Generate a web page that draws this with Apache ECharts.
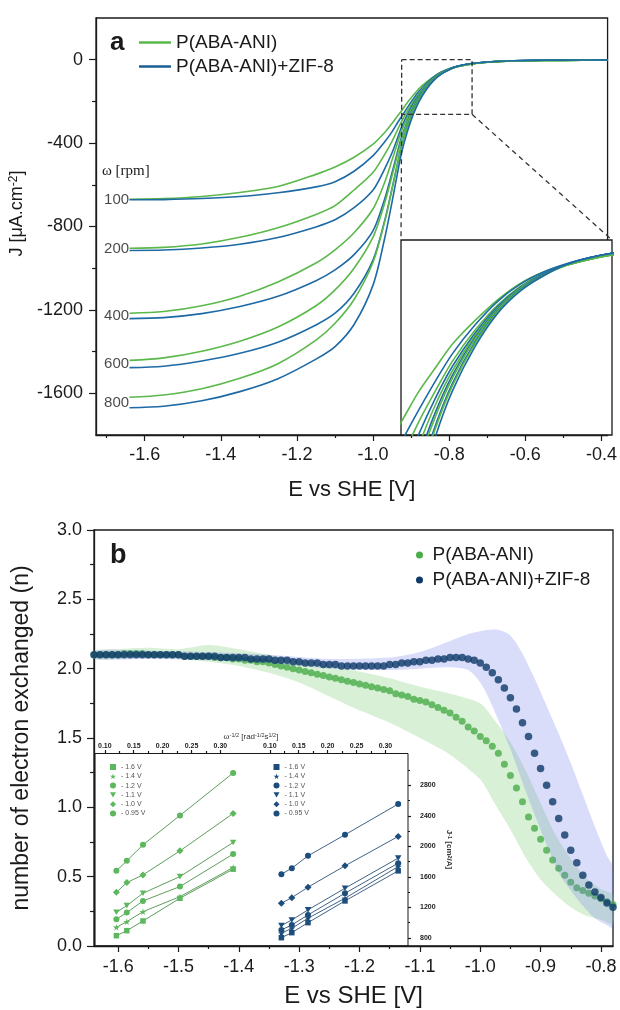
<!DOCTYPE html>
<html>
<head>
<meta charset="utf-8">
<title>P(ABA-ANI) vs P(ABA-ANI)+ZIF-8</title>
<script src="https://cdn.jsdelivr.net/npm/echarts@6.0.0/dist/echarts.min.js"></script>
<style>
html,body{margin:0;padding:0;background:#ffffff;}
#chart{width:620px;height:1010px;}
</style>
</head>
<body>
<div id="chart"></div>
<script>
// ================= DATA =================
// ---- Panel a : current density J (µA/cm²) vs E (V vs SHE) ----
const potentialA = [-1.64, -1.55, -1.45, -1.35, -1.25, -1.15, -1.10, -1.05, -1.00, -0.97, -0.95, -0.935, -0.925, -0.91, -0.895, -0.88, -0.86, -0.84, -0.82, -0.80, -0.78, -0.76, -0.74, -0.70, -0.65, -0.60, -0.50, -0.385];
const rotationRates = ['100', '200', '400', '600', '800'];
const jPani100 = [-669, -666, -656, -637, -608, -550, -515, -468, -405, -350, -305, -268, -245, -205, -172, -140, -108, -80, -58, -43, -33, -26, -20, -12, -7, -5, -3, -1];
const jZif100  = [-672, -671, -666, -656, -638, -610, -585, -535, -460, -395, -345, -300, -272, -230, -190, -153, -114, -82, -59, -43, -32, -24, -18, -11, -6, -4, -2, -1];
const jPani200 = [-904, -900, -884, -852, -806, -742, -700, -625, -540, -455, -390, -333, -296, -246, -203, -163, -121, -87, -62, -45, -34, -26, -20, -12, -7, -5, -3, -1];
const jZif200  = [-915, -913, -903, -885, -853, -802, -768, -710, -625, -525, -445, -372, -322, -263, -213, -170, -125, -89, -63, -45, -33, -24, -18, -11, -6, -4, -2, -1];
const jPani400 = [-1216, -1208, -1180, -1134, -1066, -975, -912, -830, -715, -590, -480, -395, -340, -278, -222, -176, -128, -91, -64, -46, -34, -26, -20, -12, -7, -5, -3, -1];
const jZif400  = [-1242, -1237, -1218, -1184, -1135, -1060, -1008, -935, -820, -670, -540, -435, -370, -295, -232, -182, -131, -92, -65, -46, -33, -24, -18, -11, -6, -4, -2, -1];
const jPani600 = [-1442, -1430, -1398, -1350, -1282, -1180, -1104, -1000, -850, -690, -555, -450, -380, -302, -238, -186, -133, -93, -65, -47, -34, -26, -20, -12, -7, -5, -3, -1];
const jZif600  = [-1477, -1470, -1445, -1408, -1355, -1272, -1216, -1120, -960, -775, -615, -490, -410, -322, -250, -193, -137, -95, -66, -47, -33, -24, -18, -11, -6, -4, -2, -1];
const jPani800 = [-1619, -1608, -1578, -1528, -1458, -1345, -1264, -1150, -970, -780, -620, -495, -415, -327, -254, -196, -139, -96, -67, -48, -34, -26, -20, -12, -7, -5, -3, -1];
const jZif800  = [-1669, -1662, -1636, -1592, -1530, -1436, -1376, -1270, -1080, -860, -680, -535, -445, -345, -265, -203, -143, -98, -68, -48, -33, -24, -18, -11, -6, -4, -2, -1];
const zoomBoxE = [-0.925, -0.74];
const zoomBoxJ = [-262, 0];
const ticksA_E = [-1.6, -1.4, -1.2, -1.0, -0.8, -0.6, -0.4];
const minorA_E = [-1.7, -1.5, -1.3, -1.1, -0.9, -0.7, -0.5];
const ticksA_J = [-1600, -1200, -800, -400, 0];
const minorA_J = [-1400, -1000, -600, -200];

// ---- Panel b : number of electrons exchanged n vs E ----
const potentialB = [
  -1.64,-1.63,-1.62,-1.61,-1.60,-1.59,-1.58,-1.57,-1.56,-1.55,
  -1.54,-1.53,-1.52,-1.51,-1.50,-1.49,-1.48,-1.47,-1.46,-1.45,
  -1.44,-1.43,-1.42,-1.41,-1.40,-1.39,-1.38,-1.37,-1.36,-1.35,
  -1.34,-1.33,-1.32,-1.31,-1.30,-1.29,-1.28,-1.27,-1.26,-1.25,
  -1.24,-1.23,-1.22,-1.21,-1.20,-1.19,-1.18,-1.17,-1.16,-1.15,
  -1.14,-1.13,-1.12,-1.11,-1.10,-1.09,-1.08,-1.07,-1.06,-1.05,
  -1.04,-1.03,-1.02,-1.01,-1.00,-0.99,-0.98,-0.97,-0.96,-0.95,
  -0.94,-0.93,-0.92,-0.91,-0.90,-0.89,-0.88,-0.87,-0.86,-0.85,
  -0.84,-0.83,-0.82,-0.81,-0.80,-0.79,-0.78];
const nPani = [
  2.10,2.10,2.10,2.10,2.10,2.11,2.11,2.11,2.11,2.10,
  2.10,2.10,2.10,2.10,2.10,2.09,2.09,2.09,2.09,2.09,
  2.08,2.08,2.08,2.07,2.07,2.06,2.06,2.05,2.05,2.04,
  2.03,2.02,2.01,2.00,1.99,1.98,1.97,1.96,1.95,1.94,
  1.93,1.92,1.91,1.90,1.89,1.88,1.87,1.86,1.85,1.84,
  1.82,1.81,1.80,1.78,1.77,1.76,1.74,1.72,1.70,1.68,
  1.65,1.62,1.58,1.55,1.51,1.48,1.44,1.39,1.31,1.23,
  1.14,1.04,0.93,0.85,0.77,0.69,0.62,0.56,0.51,0.46,
  0.42,0.40,0.38,0.36,0.34,0.32,0.30];
const nZif = [
  2.10,2.10,2.10,2.10,2.10,2.10,2.10,2.10,2.10,2.10,
  2.10,2.10,2.10,2.10,2.10,2.09,2.09,2.09,2.09,2.09,
  2.09,2.08,2.08,2.08,2.08,2.08,2.07,2.07,2.07,2.07,
  2.06,2.06,2.06,2.05,2.05,2.04,2.04,2.04,2.03,2.03,
  2.03,2.02,2.02,2.02,2.02,2.02,2.02,2.02,2.02,2.03,
  2.03,2.04,2.04,2.05,2.05,2.06,2.06,2.07,2.07,2.08,
  2.08,2.08,2.07,2.06,2.04,2.01,1.97,1.92,1.86,1.79,
  1.71,1.61,1.51,1.39,1.28,1.16,1.04,0.92,0.80,0.69,
  0.60,0.51,0.44,0.39,0.35,0.31,0.28];
const bandPaniE     = [-1.64, -1.60, -1.55, -1.50, -1.45, -1.40, -1.35, -1.30, -1.25, -1.20, -1.15, -1.10, -1.05, -1.00, -0.975, -0.95, -0.925, -0.90, -0.875, -0.85, -0.825, -0.80, -0.78];
const bandPaniUpper = [2.13, 2.14, 2.15, 2.14, 2.17, 2.14, 2.10, 2.06, 2.02, 1.98, 1.93, 1.87, 1.82, 1.75, 1.62, 1.47, 1.27, 1.03, 0.80, 0.63, 0.49, 0.41, 0.37];
const bandPaniLower = [2.07, 2.07, 2.08, 2.07, 2.05, 2.02, 1.97, 1.90, 1.80, 1.70, 1.61, 1.50, 1.38, 1.20, 1.02, 0.84, 0.64, 0.48, 0.37, 0.28, 0.22, 0.19, 0.16];
const bandZifE      = [-1.64, -1.55, -1.45, -1.35, -1.25, -1.15, -1.10, -1.05, -1.02, -1.00, -0.985, -0.97, -0.95, -0.93, -0.91, -0.89, -0.87, -0.85, -0.83, -0.81, -0.79, -0.78];
const bandZifUpper  = [2.13, 2.13, 2.12, 2.10, 2.07, 2.08, 2.12, 2.20, 2.25, 2.27, 2.28, 2.28, 2.24, 2.11, 1.93, 1.73, 1.53, 1.32, 1.09, 0.86, 0.65, 0.57];
const bandZifLower  = [2.07, 2.07, 2.06, 2.04, 2.00, 1.99, 2.00, 2.01, 1.99, 1.90, 1.78, 1.63, 1.42, 1.18, 0.95, 0.73, 0.53, 0.40, 0.29, 0.20, 0.15, 0.13];
const ticksB_E = [-1.6, -1.5, -1.4, -1.3, -1.2, -1.1, -1.0, -0.9, -0.8];
const minorB_E = [-1.55, -1.45, -1.35, -1.25, -1.15, -1.05, -0.95, -0.85];
const ticksB_n = [0, 0.5, 1.0, 1.5, 2.0, 2.5, 3.0];
const minorB_n = [0.25, 0.75, 1.25, 1.75, 2.25, 2.75];

// ---- Inset of panel b : Koutecky-Levich plots ----
const klOmega = [0.120, 0.138, 0.166, 0.230, 0.322];
const klPotentials = ['- 1.6 V', '- 1.4 V', '- 1.2 V', '- 1.1 V', '- 1.0 V', '- 0.95 V'];
const klInvJPani = [
  [830, 896, 1023, 1321, 1702],
  [940, 1014, 1145, 1342, 1723],
  [1046, 1133, 1286, 1474, 1900],
  [1137, 1224, 1387, 1605, 2052],
  [1400, 1526, 1627, 1942, 2432],
  [1680, 1811, 2021, 2406, 2963]];
const klInvJZif = [
  [804, 870, 1001, 1286, 1680],
  [862, 927, 1059, 1321, 1736],
  [905, 971, 1102, 1387, 1781],
  [962, 1036, 1168, 1452, 1847],
  [1256, 1329, 1466, 1746, 2131],
  [1636, 1715, 1877, 2153, 2556]];
const klOmegaTicks = [0.10, 0.15, 0.20, 0.25, 0.30];
const klOmegaMinor = [0.125, 0.175, 0.225, 0.275];
const klInvJTicks = [800, 1200, 1600, 2000, 2400, 2800];
const klInvJMinor = [1000, 1400, 1800, 2200, 2600, 3000];

// ================= STYLE / LAYOUT =================
const FONT = "'Liberation Sans', Arial, Helvetica, sans-serif";
const SERIF = "'Liberation Serif', 'Times New Roman', serif";
const INK = '#1a1a1a';
const NAME_PANI = 'P(ABA-ANI)';
const NAME_ZIF = 'P(ABA-ANI)+ZIF-8';
const GREEN_A = '#5bb84a';
const BLUE_A = '#1d6aa6';
const GREEN_B = '#4aad4a';
const BLUE_B = '#0d3a68';
const GREEN_BAND = 'rgba(125, 205, 115, 0.30)';
const BLUE_BAND = 'rgba(120, 128, 235, 0.27)';
const KL_GREEN_MARK = '#5cb85c', KL_GREEN_LINE = '#5e9e5e';
const KL_BLUE_MARK = '#1c4d7d', KL_BLUE_LINE = '#3f6385';
const STAR = 'path://M50,0 L61,35 L98,35 L68,57 L79,91 L50,70 L21,91 L32,57 L2,35 L39,35 Z';
const TRI_DOWN = 'path://M0,0 L100,0 L50,87 Z';
const KL_SYMBOLS = ['rect', STAR, 'circle', TRI_DOWN, 'diamond', 'circle'];
const KL_SIZES = [5.5, 7, 6, 6.5, 7, 6];
const RPM_LABEL_E = -1.674;

const pairs = (xs, ys) => xs.map((x, i) => [x, ys[i]]);
const axLine = { show: true, onZero: false, lineStyle: { color: INK, width: 1.3 } };
const tickStyle = { color: INK, width: 1.2 };

function majorAxis(o) {
  return Object.assign({
    type: 'value', splitLine: { show: false }, axisLine: axLine,
    axisTick: { show: true, customValues: o.ticks, length: o.tickLen || 6, inside: false, lineStyle: tickStyle },
    axisLabel: { show: true, customValues: o.ticks, formatter: o.fmt, fontSize: o.fontSize || 18,
      color: INK, fontFamily: FONT, margin: o.margin, fontWeight: o.bold ? 'bold' : 'normal' }
  }, o.extra);
}
function minorAxis(o) {
  return Object.assign({
    type: 'value', splitLine: { show: false }, axisLine: { show: false, onZero: false },
    axisTick: { show: true, customValues: o.ticks, length: o.tickLen || 3, inside: false, lineStyle: tickStyle },
    axisLabel: { show: false }
  }, o.extra);
}

const fmt1 = v => Number(v).toFixed(1);
const fmt2 = v => Number(v).toFixed(2);
const fmt0 = v => String(Math.round(v));

const grid = [
  { left: 96, top: 18, width: 516, height: 417, show: true, borderColor: INK, borderWidth: 1.3, backgroundColor: 'transparent' },
  { left: 401, top: 240, width: 211, height: 195, show: true, borderColor: INK, borderWidth: 1.3, backgroundColor: '#ffffff' },
  { left: 94, top: 530, width: 519, height: 416, show: true, borderColor: INK, borderWidth: 1.3, backgroundColor: 'transparent' },
  { left: 95, top: 753, width: 165, height: 193, show: false },
  { left: 260, top: 753, width: 148, height: 193, show: false }
];

const xAxis = [
  majorAxis({ ticks: ticksA_E, fmt: fmt1, margin: 11, extra: { gridIndex: 0, position: 'bottom', min: -1.728, max: -0.384,
    name: 'E vs SHE [V]', nameLocation: 'middle', nameGap: 44, nameTextStyle: { fontSize: 22, color: INK, fontFamily: FONT } } }),
  minorAxis({ ticks: minorA_E, extra: { gridIndex: 0, position: 'bottom', min: -1.728, max: -0.384 } }),
  { type: 'value', gridIndex: 1, min: zoomBoxE[0], max: zoomBoxE[1], show: false },
  majorAxis({ ticks: ticksB_E, fmt: fmt1, margin: 12, extra: { gridIndex: 2, position: 'bottom', min: -1.64, max: -0.78,
    name: 'E vs SHE [V]', nameLocation: 'middle', nameGap: 38, nameTextStyle: { fontSize: 24, color: INK, fontFamily: FONT } } }),
  minorAxis({ ticks: minorB_E, extra: { gridIndex: 2, position: 'bottom', min: -1.64, max: -0.78 } }),
  majorAxis({ ticks: klOmegaTicks, fmt: fmt2, margin: 3, fontSize: 7, bold: true, tickLen: 3,
    extra: { gridIndex: 3, position: 'top', min: 0.083, max: 0.3685, axisLine: { show: false, onZero: false } } }),
  majorAxis({ ticks: klOmegaTicks, fmt: fmt2, margin: 3, fontSize: 7, bold: true, tickLen: 3,
    extra: { gridIndex: 4, position: 'top', min: 0.083, max: 0.339, axisLine: { show: false, onZero: false } } }),
  minorAxis({ ticks: klOmegaMinor, tickLen: 2, extra: { gridIndex: 3, position: 'top', min: 0.083, max: 0.3685 } }),
  minorAxis({ ticks: klOmegaMinor, tickLen: 2, extra: { gridIndex: 4, position: 'top', min: 0.083, max: 0.339 } })
];

const yAxis = [
  majorAxis({ ticks: ticksA_J, fmt: fmt0, margin: 13, tickLen: 7, extra: { gridIndex: 0, position: 'left', min: -1800, max: 200,
    name: 'J [μA.cm{sup|-2}]', nameLocation: 'middle', nameGap: 58,
    nameTextStyle: { fontSize: 18, color: INK, fontFamily: FONT, padding: [0, 0, 0, 26],
      rich: { sup: { fontSize: 12, verticalAlign: 'top', color: INK, fontFamily: FONT } } } } }),
  minorAxis({ ticks: minorA_J, tickLen: 4, extra: { gridIndex: 0, position: 'left', min: -1800, max: 200 } }),
  { type: 'value', gridIndex: 1, min: zoomBoxJ[0], max: zoomBoxJ[1], show: false },
  majorAxis({ ticks: ticksB_n, fmt: fmt1, margin: 12, tickLen: 7, extra: { gridIndex: 2, position: 'left', min: 0, max: 3,
    name: 'number of electron exchanged (n)', nameLocation: 'middle', nameGap: 61,
    nameTextStyle: { fontSize: 23, color: INK, fontFamily: FONT } } }),
  minorAxis({ ticks: minorB_n, tickLen: 4, extra: { gridIndex: 2, position: 'left', min: 0, max: 3 } }),
  { type: 'value', gridIndex: 3, min: 695, max: 3225, show: false },
  majorAxis({ ticks: klInvJTicks, fmt: fmt0, margin: 12, fontSize: 7, bold: true, tickLen: 3,
    extra: { gridIndex: 4, position: 'right', min: 695, max: 3225, axisLine: { show: false, onZero: false },
      name: 'J{sup|-1} [cm{sup|2}/A]', nameLocation: 'middle', nameRotate: -90, nameGap: 37,
      nameTextStyle: { fontSize: 8, fontWeight: 'bold', color: '#333', fontFamily: FONT,
        rich: { sup: { fontSize: 5.5, fontWeight: 'bold', verticalAlign: 'top', color: '#333', fontFamily: FONT } } } } }),
  minorAxis({ ticks: klInvJMinor, tickLen: 2, extra: { gridIndex: 4, position: 'right', min: 695, max: 3225 } })
];

// ================= SERIES =================
const series = [];
const paniCurves = [jPani100, jPani200, jPani400, jPani600, jPani800];
const zifCurves = [jZif100, jZif200, jZif400, jZif600, jZif800];

rotationRates.forEach((r, k) => {
  [[paniCurves[k], NAME_PANI, GREEN_A], [zifCurves[k], NAME_ZIF, BLUE_A]].forEach(([ys, nm, col]) => {
    [[0, 0], [2, 2]].forEach(([xi, yi]) => {
      series.push({
        type: 'line', name: nm, xAxisIndex: xi, yAxisIndex: yi, data: pairs(potentialA, ys),
        symbol: 'none', showSymbol: false, smooth: 0.3, clip: true,
        lineStyle: { color: col, width: 1.6 }, itemStyle: { color: col }, z: 3, silent: true
      });
    });
  });
});

// zoom box drawn in data coordinates of panel a
const zoomBoxSeriesIndex = series.length;
series.push({
  type: 'line', name: 'zoom-box', xAxisIndex: 0, yAxisIndex: 0, symbol: 'none', silent: true, z: 4,
  data: [[zoomBoxE[0], zoomBoxJ[1]], [zoomBoxE[1], zoomBoxJ[1]], [zoomBoxE[1], zoomBoxJ[0]], [zoomBoxE[0], zoomBoxJ[0]], [zoomBoxE[0], zoomBoxJ[1]]],
  lineStyle: { color: '#333', width: 1.3, type: [5, 3] }
});
const insetSeriesIndex = 1; // first inset copy (grid 1)

// rpm labels at the start of each pair of curves
series.push({
  type: 'scatter', name: 'rpm', xAxisIndex: 0, yAxisIndex: 0, symbolSize: 0, silent: true, z: 5, clip: false,
  data: rotationRates.map((r, k) => ({ name: r, value: [RPM_LABEL_E, (paniCurves[k][0] + zifCurves[k][0]) / 2] })),
  label: { show: true, position: 'inside', formatter: '{b}', fontSize: 15, color: INK, fontFamily: FONT }
});

function bandSeries(name, E, up, lo, color, z) {
  return {
    type: 'custom', name, xAxisIndex: 3, yAxisIndex: 3, silent: true, z,
    data: E.map((e, i) => [e, up[i], lo[i]]),
    encode: { x: 0, y: [1, 2] },
    renderItem: (params, api) => {
      if (params.dataIndex !== 0) return null;
      const pts = [];
      for (let i = 0; i < E.length; i++) pts.push(api.coord([E[i], up[i]]));
      for (let i = E.length - 1; i >= 0; i--) pts.push(api.coord([E[i], lo[i]]));
      return { type: 'polygon', shape: { points: pts, smooth: 0.25 }, style: { fill: color } };
    }
  };
}
series.push(bandSeries('band-pani', bandPaniE, bandPaniUpper, bandPaniLower, GREEN_BAND, 1));
series.push({
  type: 'scatter', name: NAME_PANI, xAxisIndex: 3, yAxisIndex: 3, data: pairs(potentialB, nPani),
  symbol: 'circle', symbolSize: 7, itemStyle: { color: GREEN_B }, z: 2, silent: true, clip: false
});
series.push(bandSeries('band-zif', bandZifE, bandZifUpper, bandZifLower, BLUE_BAND, 3));
series.push({
  type: 'scatter', name: NAME_ZIF, xAxisIndex: 3, yAxisIndex: 3, data: pairs(potentialB, nZif),
  symbol: 'circle', symbolSize: 7.5, itemStyle: { color: BLUE_B }, z: 4, silent: true, clip: false
});

klPotentials.forEach((p, i) => {
  series.push({
    type: 'line', name: p, xAxisIndex: 5, yAxisIndex: 5, data: pairs(klOmega, klInvJPani[i]),
    symbol: KL_SYMBOLS[i], symbolSize: KL_SIZES[i], showSymbol: true, symbolKeepAspect: true,
    lineStyle: { color: KL_GREEN_LINE, width: 1 }, itemStyle: { color: KL_GREEN_MARK }, z: 6, silent: true
  });
  series.push({
    type: 'line', name: p, xAxisIndex: 6, yAxisIndex: 6, data: pairs(klOmega, klInvJZif[i]),
    symbol: KL_SYMBOLS[i], symbolSize: KL_SIZES[i], showSymbol: true, symbolKeepAspect: true,
    lineStyle: { color: KL_BLUE_LINE, width: 1 }, itemStyle: { color: KL_BLUE_MARK }, z: 6, silent: true
  });
});

// ================= LEGENDS =================
const legend = [
  { id: 'legA', orient: 'vertical', left: 139, top: 33, padding: 0, itemWidth: 32, itemHeight: 2.5, itemGap: 5,
    icon: 'rect', selectedMode: false, z: 10,
    textStyle: { fontSize: 19, color: INK, fontFamily: FONT },
    data: [{ name: NAME_PANI, itemStyle: { color: GREEN_A } }, { name: NAME_ZIF, itemStyle: { color: '#1b5f92' } }] },
  { id: 'legB', orient: 'vertical', left: 416, top: 545.5, padding: 0, itemWidth: 16, itemHeight: 7, itemGap: 6,
    icon: 'circle', selectedMode: false, z: 10,
    textStyle: { fontSize: 19, color: INK, fontFamily: FONT },
    data: [{ name: NAME_PANI, itemStyle: { color: GREEN_B } }, { name: NAME_ZIF, itemStyle: { color: BLUE_B } }] },
  { id: 'legKL1', orient: 'vertical', left: 110, top: 763.5, padding: 0, itemWidth: 6, itemHeight: 6, itemGap: 2.3,
    selectedMode: false, z: 10, textStyle: { fontSize: 7, color: '#555', fontFamily: FONT },
    data: klPotentials.map((p, i) => ({ name: p, icon: KL_SYMBOLS[i], itemStyle: { color: KL_GREEN_MARK } })) },
  { id: 'legKL2', orient: 'vertical', left: 273.5, top: 763.5, padding: 0, itemWidth: 6, itemHeight: 6, itemGap: 2.3,
    selectedMode: false, z: 10, textStyle: { fontSize: 7, color: '#555', fontFamily: FONT },
    data: klPotentials.map((p, i) => ({ name: p, icon: KL_SYMBOLS[i], itemStyle: { color: KL_BLUE_MARK } })) }
];

// ================= ANNOTATIONS =================
const graphic = { elements: [
  { id: 'lblA', type: 'text', x: 110, y: 43, z: 10, silent: true,
    style: { text: 'a', fontSize: 26, fontWeight: 'bold', fontFamily: FONT, fill: INK, align: 'left', verticalAlign: 'middle' } },
  { id: 'lblB', type: 'text', x: 110, y: 556, z: 10, silent: true,
    style: { text: 'b', fontSize: 27, fontWeight: 'bold', fontFamily: FONT, fill: INK, align: 'left', verticalAlign: 'middle' } },
  { id: 'lblRpm', type: 'text', x: 102, y: 171, z: 10, silent: true,
    style: { text: 'ω [rpm]', fontSize: 15, fontFamily: SERIF, fill: INK, align: 'left', verticalAlign: 'middle' } },
  { id: 'lblKL', type: 'text', x: 251, y: 737, z: 10, silent: true,
    style: { text: '{w|ω}{s|-1/2} [rad{s|-1/2}s{s|1/2}]', fontSize: 8, fontFamily: FONT, fill: '#333',
      align: 'center', verticalAlign: 'middle',
      rich: { w: { fontSize: 9, fontFamily: SERIF, fill: '#333' }, s: { fontSize: 5.5, verticalAlign: 'top', fill: '#333', fontFamily: FONT } } } },
  { id: 'klFrame', type: 'rect', z: 10, silent: true,
    shape: { x: 95, y: 753.5, width: 313, height: 192.5 }, style: { fill: 'none', stroke: INK, lineWidth: 1 } }
] };

const option = {
  animation: false,
  backgroundColor: '#ffffff',
  textStyle: { fontFamily: FONT },
  grid, xAxis, yAxis, series, legend, graphic
};

const chart = echarts.init(document.getElementById('chart'), null, { renderer: 'canvas' });
chart.setOption(option);

// dashed connectors from the zoom box to the inset, located through the axes' scales
const bl = chart.convertToPixel({ seriesIndex: zoomBoxSeriesIndex }, [zoomBoxE[0], zoomBoxJ[0]]);
const br = chart.convertToPixel({ seriesIndex: zoomBoxSeriesIndex }, [zoomBoxE[1], zoomBoxJ[0]]);
const tl = chart.convertToPixel({ seriesIndex: insetSeriesIndex }, [zoomBoxE[0], zoomBoxJ[1]]);
const tr = chart.convertToPixel({ seriesIndex: insetSeriesIndex }, [zoomBoxE[1], zoomBoxJ[1]]);
chart.setOption({ graphic: { elements: [
  { id: 'conn1', type: 'line', z: 10, silent: true, shape: { x1: bl[0], y1: bl[1], x2: tl[0], y2: tl[1] },
    style: { stroke: '#333', lineWidth: 1.3, lineDash: [5, 4] } },
  { id: 'conn2', type: 'line', z: 10, silent: true, shape: { x1: br[0], y1: br[1], x2: tr[0], y2: tr[1] },
    style: { stroke: '#333', lineWidth: 1.3, lineDash: [5, 4] } }
] } });
</script>
</body>
</html>
